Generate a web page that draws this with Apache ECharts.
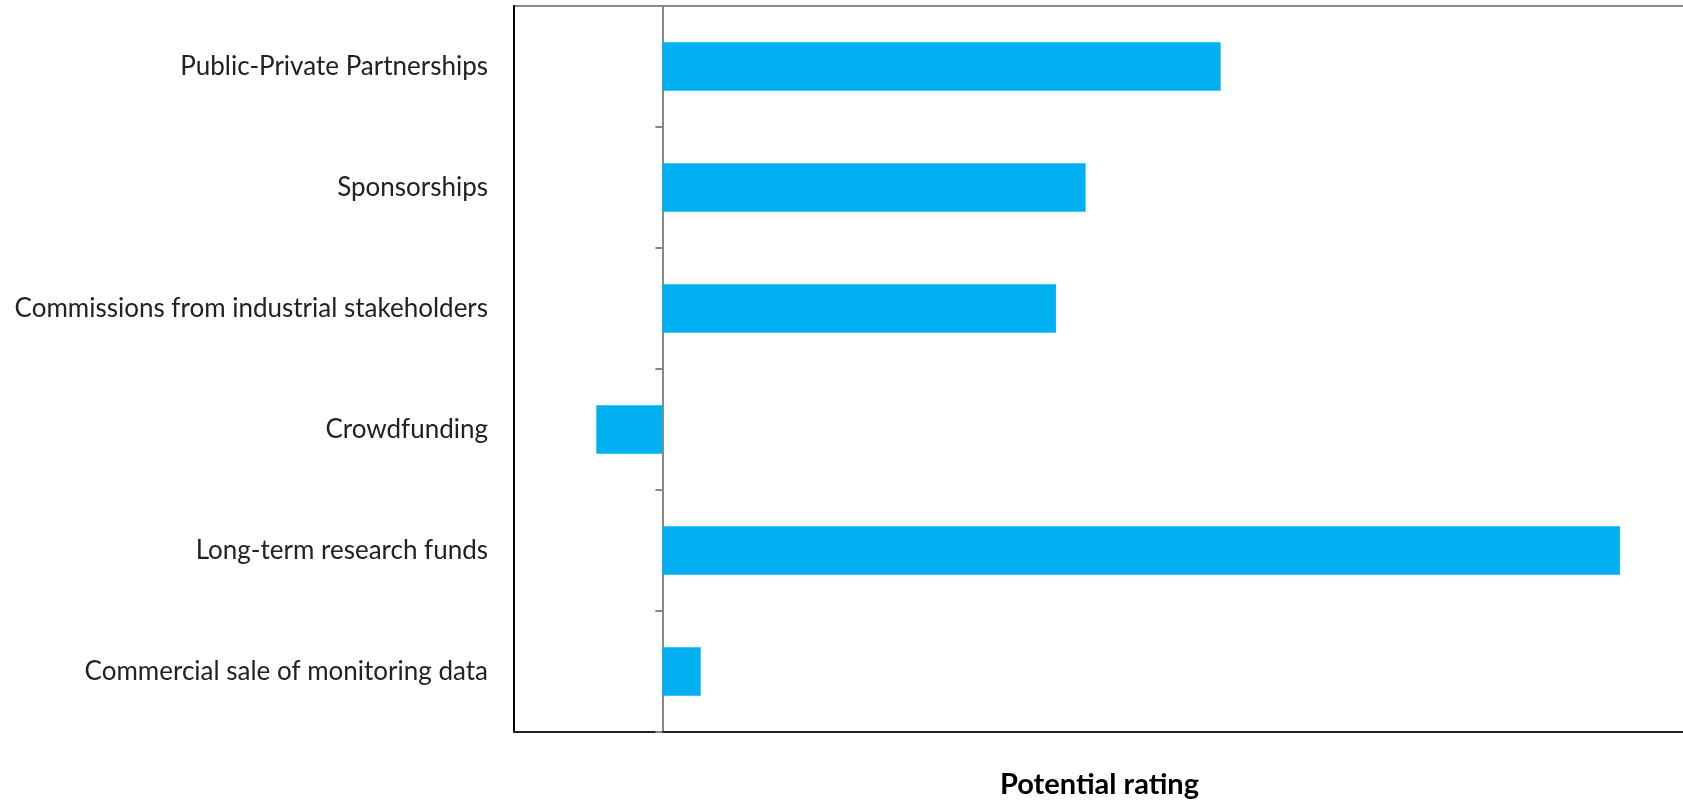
<!DOCTYPE html>
<html>
<head>
<meta charset="utf-8">
<script src="https://cdn.jsdelivr.net/npm/echarts@6/dist/echarts.min.js"></script>
<style>html,body{margin:0;padding:0;background:#fff}#c{width:1683px;height:802px}</style>
</head>
<body>
<div id="c"></div>
<script>
const categories = [
  "Public-Private Partnerships",
  "Sponsorships",
  "Commissions from industrial stakeholders",
  "Crowdfunding",
  "Long-term research funds",
  "Commercial sale of monitoring data"
];
const ratings = [58.3, 44.2, 41.1, -6.9, 100, 4.0];
const axisName = "Potential rating";

const chart = echarts.init(document.getElementById('c'));
chart.setOption({
  animation: false,
  grid: { left: 514, right: -2, top: 6, bottom: 70, show: true, borderColor: '#888', borderWidth: 2,
          containLabel: false, outerBoundsMode: 'none' },
  xAxis: {
    type: 'value', min: -15.5, max: 106.8,
    position: 'bottom',
    axisLine: { show: true, onZero: false, lineStyle: { color: '#222', width: 2 } },
    axisTick: { show: false }, axisLabel: { show: false }, splitLine: { show: false },
    name: axisName, nameLocation: 'middle', nameGap: 38,
    nameTextStyle: { fontFamily: 'Lato', fontWeight: 'bold', fontSize: 29, color: '#000' }
  },
  yAxis: [
    {
      type: 'category', data: categories, inverse: true,
      axisLine: { show: true, onZero: true, lineStyle: { color: '#888', width: 2 } },
      axisTick: { show: true, inside: false, length: 7, lineStyle: { color: '#888', width: 2 } },
      axisLabel: { show: false }, splitLine: { show: false }
    },
    {
      type: 'category', data: categories, inverse: true, position: 'left',
      axisLine: { show: true, onZero: false, lineStyle: { color: '#000', width: 2 } },
      axisTick: { show: false },
      axisLabel: { show: true, margin: 26, fontFamily: 'Lato', fontSize: 26, color: '#222' },
      splitLine: { show: false }
    }
  ],
  series: [{
    type: 'bar', data: ratings, barWidth: '40%', yAxisIndex: 0,
    itemStyle: { color: '#00B0F0' }
  }]
});
</script>
</body>
</html>
